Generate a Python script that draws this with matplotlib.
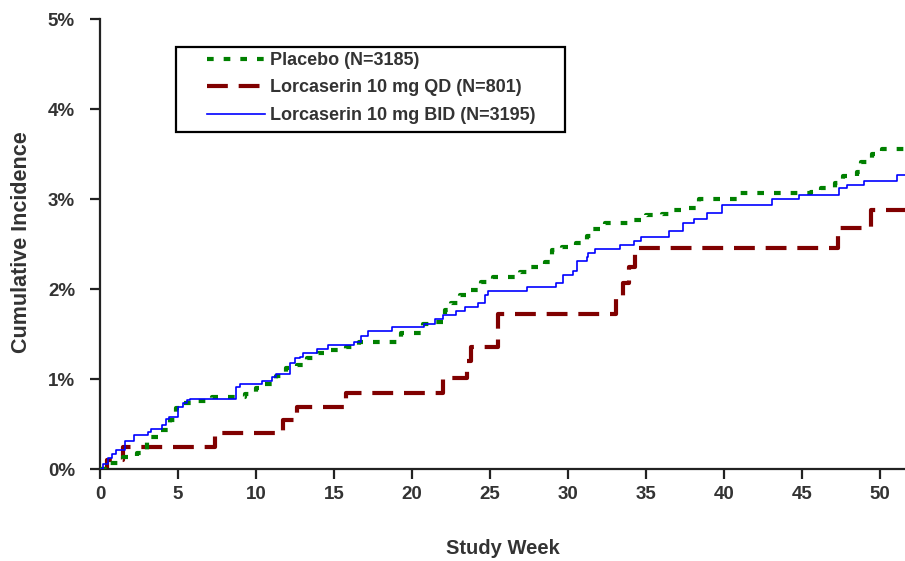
import matplotlib
matplotlib.use("Agg")
import matplotlib.pyplot as plt
from matplotlib.font_manager import FontProperties
from matplotlib.patches import Rectangle
from matplotlib.ticker import FuncFormatter

# Cumulative incidence (%) by study week, step changes for each arm
placebo_weeks = [0.0, 0.6, 1.5, 2.4, 3.0, 3.9, 4.5, 4.9, 5.3, 6.2, 7.2, 9.3, 10.0, 10.5,
                 11.3, 11.9, 12.6, 13.3, 14.0, 14.7, 15.8, 16.6, 19.3, 20.7, 21.5, 22.1,
                 22.5, 23.1, 23.8, 24.4, 25.2, 26.9, 27.5, 28.5, 29.0, 29.6, 30.5, 31.2,
                 31.6, 32.4, 34.2, 35.0, 36.0, 36.8, 37.7, 38.4, 41.0, 45.6, 46.2, 47.1,
                 47.6, 48.5, 48.8, 49.5, 50.1]
placebo_pct = [0.0, 0.07, 0.13, 0.18, 0.36, 0.43, 0.54, 0.68, 0.73, 0.76, 0.80, 0.83, 0.90,
               0.95, 1.03, 1.12, 1.16, 1.23, 1.29, 1.32, 1.36, 1.41, 1.51, 1.61, 1.63, 1.77,
               1.84, 1.93, 1.99, 2.08, 2.13, 2.19, 2.24, 2.30, 2.43, 2.47, 2.51, 2.59, 2.67,
               2.73, 2.77, 2.82, 2.83, 2.88, 2.90, 3.00, 3.07, 3.08, 3.12, 3.18, 3.26, 3.30,
               3.41, 3.50, 3.56]

qd_weeks = [0.0, 0.45, 1.5, 7.4, 11.7, 12.6, 15.8, 22.0, 23.5, 23.8, 25.5, 33.1, 33.5,
            33.9, 34.3, 47.3, 49.4]
qd_pct = [0.0, 0.10, 0.25, 0.40, 0.54, 0.69, 0.84, 1.01, 1.20, 1.36, 1.72, 1.91, 2.07,
          2.25, 2.46, 2.68, 2.88]

bid_weeks = [0.0, 0.2, 0.5, 0.8, 1.0, 1.6, 2.2, 3.1, 3.3, 4.0, 4.2, 4.4, 5.0, 5.3, 5.6,
             5.8, 8.7, 9.0, 10.4, 11.0, 11.3, 12.2, 12.5, 12.8, 13.0, 13.9, 14.6, 16.3,
             16.7, 17.2, 18.7, 20.8, 21.5, 22.0, 22.8, 23.4, 24.2, 24.7, 24.9, 27.4, 29.2,
             29.7, 30.3, 30.6, 31.2, 31.3, 31.7, 33.3, 34.2, 34.7, 36.5, 37.4, 38.1, 38.9,
             39.9, 43.1, 44.8, 47.4, 47.9, 49.0, 51.1]
bid_pct = [0.0, 0.06, 0.12, 0.17, 0.21, 0.31, 0.38, 0.41, 0.44, 0.49, 0.56, 0.58, 0.69,
           0.73, 0.77, 0.78, 0.91, 0.95, 0.98, 1.02, 1.06, 1.18, 1.23, 1.25, 1.29, 1.33,
           1.38, 1.41, 1.48, 1.53, 1.58, 1.61, 1.67, 1.71, 1.76, 1.80, 1.84, 1.93, 1.98,
           2.02, 2.07, 2.16, 2.20, 2.31, 2.36, 2.40, 2.44, 2.49, 2.53, 2.58, 2.64, 2.73,
           2.78, 2.85, 2.93, 3.00, 3.04, 3.12, 3.16, 3.20, 3.27]

labels = ["Placebo (N=3185)", "Lorcaserin 10 mg QD (N=801)", "Lorcaserin 10 mg BID (N=3195)"]
x_ticks = [0, 5, 10, 15, 20, 25, 30, 35, 40, 45, 50]
y_ticks = [0, 1, 2, 3, 4, 5]
x_end = 51.6

fam = ["Liberation Sans", "DejaVu Sans"]
text_color = "#333333"

fig = plt.figure(figsize=(9.05, 5.61), dpi=100)
ax = fig.add_axes([100 / 905, 92 / 561, 805 / 905, 450 / 561])


def extend(weeks, vals):
    return list(weeks) + [x_end], list(vals) + [vals[-1]]


w, v = extend(placebo_weeks, placebo_pct)
ax.step(w, v, where="post", color="#008000", lw=3.0, dashes=(1.6, 2.4),
        label=labels[0], zorder=3)
w, v = extend(qd_weeks, qd_pct)
ax.step(w, v, where="post", color="#800000", lw=3.0, dashes=(5.0, 2.6),
        label=labels[1], zorder=2)
w, v = extend(bid_weeks, bid_pct)
ax.step(w, v, where="post", color="#0000ff", lw=1.2, label=labels[2], zorder=4)

ax.set_xlim(0, x_end)
ax.set_ylim(0, 5)
ax.set_xticks(x_ticks)
ax.set_yticks(y_ticks)
ax.yaxis.set_major_formatter(FuncFormatter(lambda val, pos: f"{val:.0f}%"))

for side in ("top", "right"):
    ax.spines[side].set_visible(False)
for side in ("left", "bottom"):
    ax.spines[side].set_linewidth(1.6)
    ax.spines[side].set_color("#222222")
ax.tick_params(axis="both", direction="out", length=7, width=1.6, color="#222222")
ax.tick_params(axis="y", pad=11)
ax.tick_params(axis="x", pad=5)

for lab in ax.get_yticklabels():
    lab.set_fontproperties(FontProperties(family=fam, weight="bold", size=13.5))
    lab.set_color(text_color)
for lab in ax.get_xticklabels():
    lab.set_fontproperties(FontProperties(family=fam, weight="bold", size=13.5))
    lab.set_color(text_color)

ax.set_xlabel("Study Week", fontsize=14.5, color=text_color, labelpad=26,
              family=fam, weight="bold")
fig.text(22 / 905, 1 - 242 / 561, "Cumulative Incidence", rotation=90, fontsize=15.5,
         color=text_color, ha="center", va="center", family=fam, weight="bold")

# Legend box
ax.add_patch(Rectangle(((176 - 100) / 805, (469 - 132) / 450), (565 - 176) / 805, 85 / 450,
                       transform=ax.transAxes, fill=False, edgecolor="black", lw=1.6,
                       zorder=5))
leg = ax.legend(loc="upper left", bbox_to_anchor=((207 - 100) / 805, (469 - 52) / 450),
                frameon=False, borderpad=0, borderaxespad=0, handlelength=3.2,
                handletextpad=0.28, labelspacing=0.58,
                prop=FontProperties(family=fam, weight="bold", size=13))
for t in leg.get_texts():
    t.set_color(text_color)

fig.savefig("out.png", dpi=100)
